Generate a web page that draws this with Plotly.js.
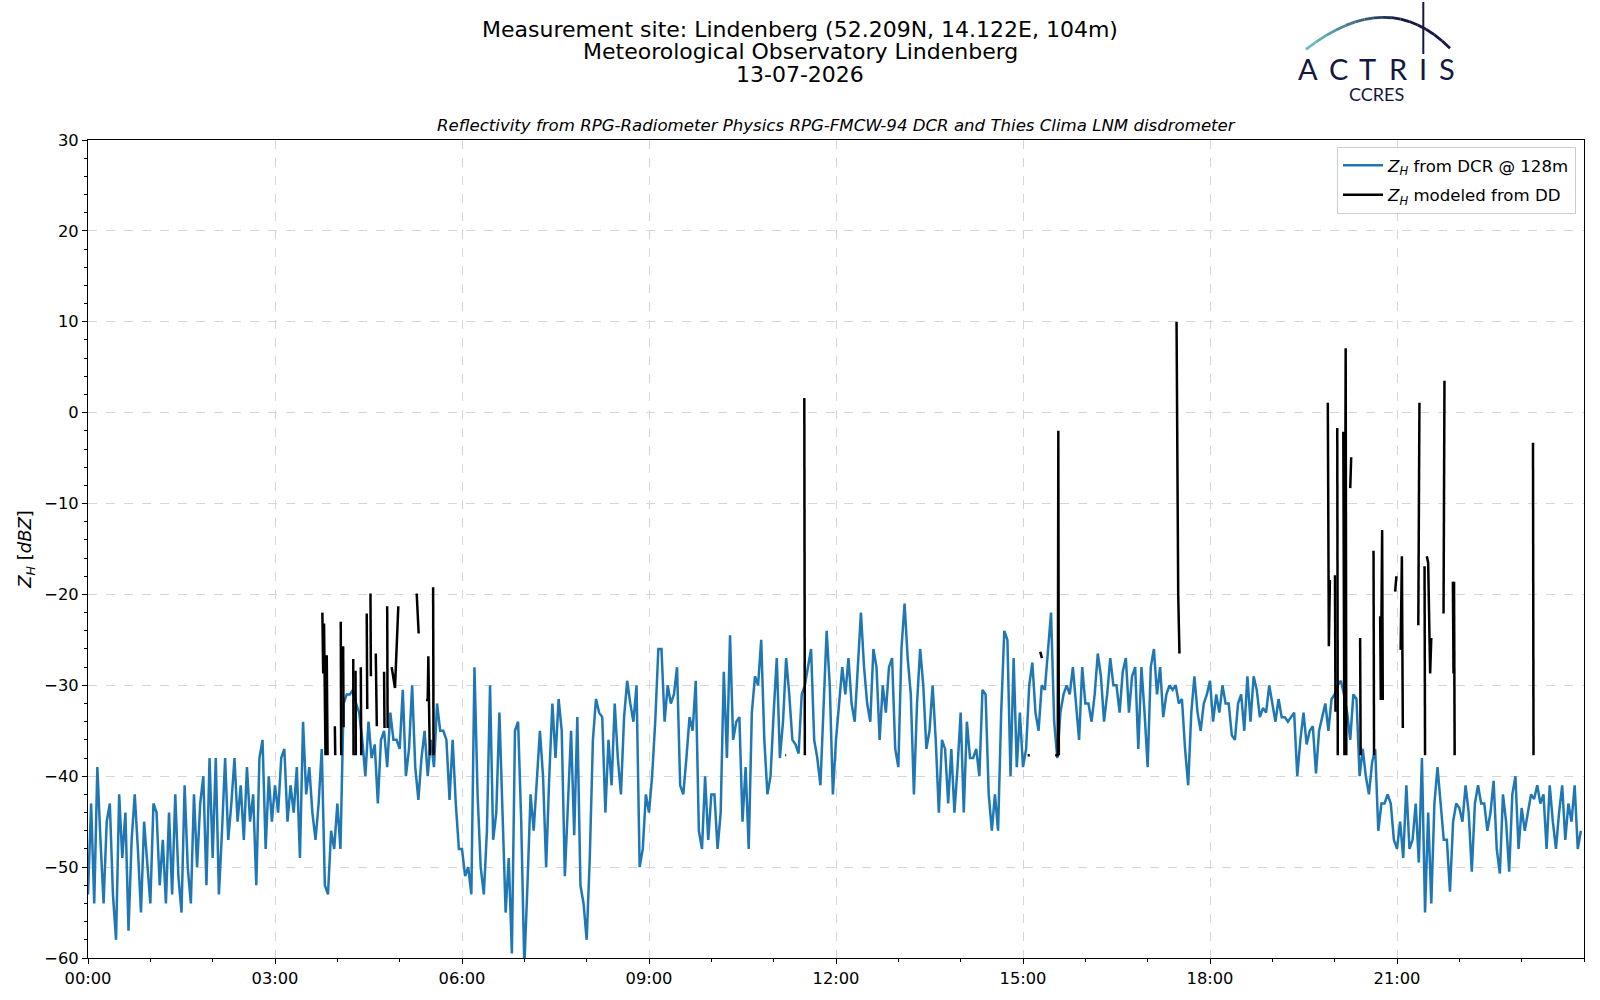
<!DOCTYPE html>
<html>
<head>
<meta charset="utf-8">
<script src="https://cdn.plot.ly/plotly-3.0.1.min.js"></script>
<style>html,body{margin:0;padding:0;background:#fff}#chart{width:1600px;height:1000px}</style>
</head>
<body>
<div id="chart"></div>
<script>
// ---------------- DATA ----------------
const dayStart = '2026-07-13';
const dcrStepMinutes = 3;   // DCR reflectivity sampled every 3 minutes, starting 00:00

// Z_H from DCR @ 128 m, one row per hour (20 samples per hour)
const dcrZ = [
  -53,-43,-54,-39,-47,-54,-45,-43,-53,-58,-42,-49,-44,-57,-47,-42,-48,-55,-45,-50,
  -54,-43,-44,-52,-47,-54,-44,-53,-42,-51,-55,-41,-50,-54,-42,-50,-43,-40,-52,-38,
  -49,-38,-53,-46,-38,-47,-43,-38,-45,-41,-47,-39,-45,-42,-52,-38,-36,-48,-40,-45,
  -41,-44,-38,-37,-45,-41,-44,-39,-49,-34,-42,-39,-44,-47,-43,-37,-52,-53,-46,-48,
  -43,-48,-32,-31,-31,-30.5,-32,-33,-36,-40,-34,-38,-36.5,-43,-36,-35,-39,-33,-36,-36,
  -37,-30.5,-40,-37,-30,-39,-42.6,-38,-35,-40,-36,-39,-32,-35,-35,-36,-42.6,-36,-43,-48,
  -48,-51,-50,-53,-28,-42,-50,-53,-46,-30,-47,-44,-33,-44,-55,-49,-59.5,-35,-34,-45,
  -61,-52,-42,-46,-40,-35,-40,-50,-40,-32,-38,-31.5,-35,-51,-43,-35,-46.5,-33.5,-52,-54,
  -58,-49,-36,-31.5,-33,-33.5,-44,-36,-41,-32,-38,-42,-33.5,-29.5,-32,-34,-30,-50,-48,-42,
  -44,-40,-34,-26,-26,-34,-30,-32,-31,-28,-41,-42,-38,-33.5,-35,-29.5,-46,-48,-40,-47,
  -42,-42,-48,-44,-28.5,-38,-24.5,-36,-34,-33.5,-45,-39,-48,-33,-29,-30,-25,-36,-42,-40,
  -33,-27,-38,-34,-27,-31,-36,-36.5,-37.5,-31,-30,-28,-26,-36,-38,-41,-32,-24,-30,-42,
  -36,-32,-28,-31,-27,-32,-34,-28,-22,-28,-32,-34,-26,-28,-36,-30,-33,-28,-27,-37,
  -39,-26,-21,-27,-31,-42,-32,-26,-30,-37,-35,-30,-36,-44,-36,-37,-43,-37,-44,-39,
  -33,-44,-34,-38,-38,-37,-40,-30.5,-31,-42,-46,-42,-46,-33,-24,-25,-40,-27,-39,-33,
  -39,-37,-30,-27.5,-33,-35,-30,-30.5,-26,-22,-34,-38,-33,-31,-30,-31,-28,-32,-36,-28,
  -32,-32,-34,-31,-26.5,-29,-34,-31,-27,-30,-30,-33,-28.5,-27,-33,-29,-28,-37,-28,-33,
  -39,-28,-26,-31,-28,-33.5,-31,-30,-30.5,-30,-32,-31.5,-37,-41,-33,-29,-33,-35,-32,-31,
  -29.5,-34,-31,-33,-30,-32,-32,-35.5,-36,-32,-31,-35,-29,-34,-29,-30.5,-33.5,-32.5,-33,-30,
  -32,-34,-31.5,-33.5,-33.5,-34,-33.5,-33,-40,-36,-33,-36.5,-35,-34.5,-39.7,-35,-33.5,-32,-35,-31.5,
  -31,-30,-29.5,-31,-33,-36,-31,-31.5,-40,-37,-40,-42,-38.5,-37,-46,-43,-43,-42,-43,-47,
  -48,-45,-49,-41,-48,-47,-43,-49.5,-38,-55,-44,-54,-43,-39,-43,-47,-47,-52.7,-45,-43,
  -43.5,-45,-41,-44,-50.5,-43,-41,-43,-43,-46,-44,-40.5,-48,-50.7,-42,-45,-50.5,-42,-40,-48,
  -43.5,-46,-44,-42,-42.5,-41,-43,-42,-48,-41,-45,-48,-44,-41,-47,-43,-45,-41,-48,-46
];

// Z_H modeled from disdrometer: minute of day and value, null = no precipitation (gap)
const ddMinute = [
  225.6,226.4,227.2,228.6,229.8,230.6,null, 237.6,238.0,null, 243.3,243.7,null, 245.6,246.0,null,
  255.3,255.6,null, 257.5,257.8,null, 262.6,263.0,null, 268.3,268.8,null, 271.9,272.3,null,
  277.0,278.0,null, 285.0,285.4,null, 288.0,288.4,null, 292.3,295.5,298.7,null, 316.4,318.3,null,
  325.4,327.0,327.6,329.0,null, 332.2,332.6,null, 671.2,672.0,null, 689.5,690.0,null,
  904.5,906.5,null, 916.6,918.2,null, 931.0,933.5,934.0,934.5,null, 1047.8,1049.4,1050.6,null,
  1193.4,1194.4,1195.4,null, 1200.3,1200.8,null, 1202.5,1203.0,null, 1208.3,1209.4,1210.6,1211.2,null,
  1215.0,1215.9,null, 1224.5,1225.0,null, 1237.4,1237.9,null, 1243.8,1244.4,1245.7,1246.3,null,
  1258.2,1259.4,null, 1263.5,1264.7,1265.6,null, 1280.5,1281.6,null, 1286.5,1287.0,null,
  1288.7,1290.0,1291.9,1293.0,null, 1304.8,1305.7,null, 1313.8,1314.4,null, 1314.9,1315.5,null,
  1390.9,1391.4
];
const ddZ = [
  -22.0,-28.7,-23.2,-37.7,-26.7,-37.7,null, -34.5,-37.7,null, -23.0,-37.7,null, -25.7,-34.6,null,
  -27.1,-37.7,null, -28.4,-37.7,null, -28.0,-37.7,null, -22.1,-32.6,null, -19.9,-29.0,null,
  -26.5,-34.5,null, -28.5,-34.7,null, -21.3,-34.7,null, -28.0,-30.3,-21.3,null, -19.9,-24.3,null,
  -31.6,-31.6,-26.8,-37.7,null, -19.2,-37.7,null, -37.7,-37.7,null, 1.6,-37.7,null,
  -37.7,-37.7,null, -26.3,-27.0,null, -37.7,-37.7,-2.0,-37.7,null, 10.0,-20.0,-26.5,null,
  1.1,-25.7,-18.4,null, -17.9,-32.9,null, -1.7,-37.7,null, -2.1,-37.7,7.1,-37.7,null,
  -8.3,-4.9,null, -24.8,-37.7,null, -15.2,-37.7,null, -22.4,-31.6,-12.9,-31.6,null,
  -19.7,-18.0,null, -26.1,-15.8,-34.7,null, -23.4,1.1,null, -16.9,-37.7,null,
  -15.8,-16.5,-28.7,-24.8,null, -22.1,3.5,null, -18.6,-28.7,null, -18.6,-37.7,null,
  -3.3,-37.7
];

const xTickLabels = ['00:00','03:00','06:00','09:00','12:00','15:00','18:00','21:00'];
const yTickValues = [-60,-50,-40,-30,-20,-10,0,10,20,30];
const seriesNames = ['<i>Z<sub>H</sub></i> from DCR @ 128m', '<i>Z<sub>H</sub></i> modeled from DD'];
const titleLines = ['Measurement site: Lindenberg (52.209N, 14.122E, 104m)', 'Meteorological Observatory Lindenberg', '13-07-2026'];
const subTitle = 'Reflectivity from RPG-Radiometer Physics RPG-FMCW-94 DCR and Thies Clima LNM disdrometer';
const logoLetters = ['A','C','T','R','I','S'];

// ---------------- HELPERS ----------------
function pad(n){ return (n < 10 ? '0' : '') + n; }
function minuteToDate(m){
  if (m === null) return null;
  const s = Math.round(m * 60);
  return dayStart + ' ' + pad(Math.floor(s / 3600)) + ':' + pad(Math.floor((s % 3600) / 60)) + ':' + pad(s % 60);
}
const dcrTime = dcrZ.map((_, i) => minuteToDate(i * dcrStepMinutes));
const ddTime = ddMinute.map(minuteToDate);

// figure pixel -> paper coords (plot area 88..1584 x 140..958)
const L = 88, R = 16, T = 140, B = 42, W = 1600, H = 1000;
const PW = W - L - R, PH = H - T - B;
const px = x => (x - L) / PW;
const py = y => (H - B - y) / PH;

// ---------------- LOGO (decoration) ----------------
const shapes = [];
const P0 = [1306, 49.3], P1 = [1388, -14.2], P2 = [1450, 48.3];
const nSeg = 16;
const c0 = [112, 200, 194], c1 = [20, 24, 66];
function bez(t){
  return [ (1-t)*(1-t)*P0[0] + 2*(1-t)*t*P1[0] + t*t*P2[0],
           (1-t)*(1-t)*P0[1] + 2*(1-t)*t*P1[1] + t*t*P2[1] ];
}
for (let k = 0; k < nSeg; k++) {
  const a = bez(k / nSeg), b = bez((k + 1) / nSeg);
  const f = Math.min(1, ((k + 0.5) / nSeg) / 0.62);
  const col = 'rgb(' + c0.map((v, j) => Math.round(v + (c1[j] - v) * f)).join(',') + ')';
  shapes.push({type: 'line', xref: 'paper', yref: 'paper',
    x0: px(a[0]), y0: py(a[1]), x1: px(b[0]), y1: py(b[1]),
    line: {color: col, width: 2.8}});
}
shapes.push({type: 'line', xref: 'paper', yref: 'paper',
  x0: px(1423.3), y0: py(2), x1: px(1423.3), y1: py(54), line: {color: '#14183f', width: 2}});

const letterX = [1307.5, 1338.3, 1367.3, 1398.3, 1423.3, 1446.5];
const annotations = logoLetters.map((ch, i) => ({
  text: ch, xref: 'paper', yref: 'paper', x: px(letterX[i]), y: py(68),
  xanchor: 'center', yanchor: 'middle', showarrow: false,
  font: {family: 'Lato, DejaVu Sans, sans-serif', size: 29, color: '#14183f'}
}));
annotations.push({text: 'CCRES', xref: 'paper', yref: 'paper', x: px(1376.5), y: py(94),
  xanchor: 'center', yanchor: 'middle', showarrow: false,
  font: {family: 'Lato, DejaVu Sans, sans-serif', size: 18, color: '#14183f'}});
annotations.push({text: titleLines[1], xref: 'paper', yref: 'paper', x: px(800), y: py(52),
  xanchor: 'center', yanchor: 'middle', showarrow: false,
  font: {family: 'DejaVu Sans, sans-serif', size: 22, color: '#000'}});
annotations.push({text: titleLines[2], xref: 'paper', yref: 'paper', x: px(800), y: py(75),
  xanchor: 'center', yanchor: 'middle', showarrow: false,
  font: {family: 'DejaVu Sans, sans-serif', size: 22, color: '#000'}});
annotations.push({text: '<i>' + subTitle + '</i>', xref: 'paper', yref: 'paper', x: 0.5, y: py(126),
  xanchor: 'center', yanchor: 'middle', showarrow: false,
  font: {family: 'DejaVu Sans, sans-serif', size: 16.6, color: '#000'}});

// ---------------- TRACES ----------------
const traces = [
  {type: 'scatter', mode: 'lines', x: dcrTime, y: dcrZ, name: seriesNames[0], legendgroup: 'dcr',
   line: {color: '#1f77b4', width: 2.5}},
  {type: 'scatter', mode: 'lines', x: ddTime, y: ddZ, name: seriesNames[1], legendgroup: 'dd',
   connectgaps: false, line: {color: '#000000', width: 2.5}}
];

const gridCol = '#d6d6d6';
const layout = {
  width: W, height: H,
  margin: {l: L, r: R, t: T, b: B, pad: 0},
  paper_bgcolor: '#fff', plot_bgcolor: '#fff',
  font: {family: 'DejaVu Sans, sans-serif', size: 16, color: '#000'},
  title: {text: titleLines[0], xref: 'container', x: 0.5, xanchor: 'center',
          yref: 'container', y: 1 - 29 / H, yanchor: 'middle',
          font: {family: 'DejaVu Sans, sans-serif', size: 22, color: '#000'}},
  showlegend: true,
  legend: {x: px(1576), xanchor: 'right', y: py(147), yanchor: 'top',
           bgcolor: 'rgba(255,255,255,0.85)', bordercolor: '#cccccc', borderwidth: 1,
           font: {size: 16.6, color: '#000'}, itemwidth: 40, tracegroupgap: 5},
  xaxis: {
    type: 'date',
    range: [dayStart + ' 00:00:00', '2026-07-14 00:00:00'],
    tickmode: 'array',
    tickvals: xTickLabels.map(l => dayStart + ' ' + l + ':00'),
    ticktext: xTickLabels,
    ticks: 'outside', ticklen: 5, tickwidth: 1.2, tickcolor: '#000',
    showline: true, linecolor: '#000', linewidth: 1.2, mirror: true,
    showgrid: true, gridcolor: gridCol, griddash: 'dash', gridwidth: 1,
    zeroline: false,
    minor: {tickmode: 'linear', tick0: dayStart + ' 00:00:00', dtick: 3600000,
            ticks: 'outside', ticklen: 3, tickwidth: 1, tickcolor: '#000', showgrid: false},
    tickfont: {size: 16.3}
  },
  yaxis: {
    range: [-60, 30],
    tickmode: 'array', tickvals: yTickValues,
    ticks: 'outside', ticklen: 5, tickwidth: 1.2, tickcolor: '#000',
    showline: true, linecolor: '#000', linewidth: 1.2, mirror: true,
    showgrid: true, gridcolor: gridCol, griddash: 'dash', gridwidth: 1,
    zeroline: false,
    minor: {tickmode: 'linear', tick0: -60, dtick: 2,
            ticks: 'outside', ticklen: 3, tickwidth: 1, tickcolor: '#000', showgrid: false},
    tickfont: {size: 16.3},
    title: {text: '<i>Z<sub>H</sub></i> [<i>dBZ</i>]', font: {size: 18}, standoff: 7}
  },
  shapes: shapes,
  annotations: annotations
};

Plotly.newPlot('chart', traces, layout, {displayModeBar: false, responsive: false});
</script>
</body>
</html>
